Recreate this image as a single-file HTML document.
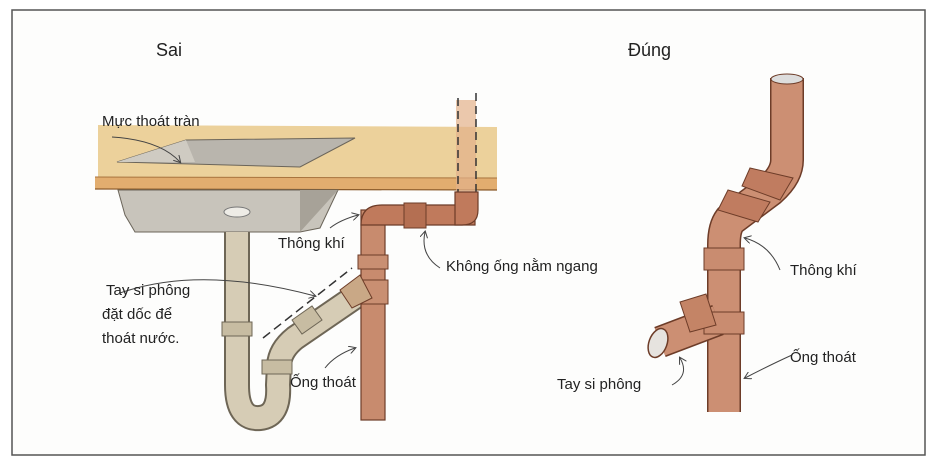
<!DOCTYPE html>
<html><head><meta charset="utf-8"><style>
html,body{margin:0;padding:0;background:#fff}
svg{display:block}
text{font-family:"Liberation Sans","DejaVu Sans",sans-serif;fill:#222}
</style></head><body>
<svg width="942" height="464" viewBox="0 0 942 464" xmlns="http://www.w3.org/2000/svg">
<defs>
<marker id="ah" markerWidth="8" markerHeight="8" refX="6" refY="4" orient="auto" markerUnits="userSpaceOnUse">
<path d="M0,0 L7,4 L0,8" fill="none" stroke="#444" stroke-width="1"/>
</marker>
</defs>
<rect x="0" y="0" width="942" height="464" fill="#fff"/>
<rect x="12" y="10" width="913" height="445" fill="#fdfdfc" stroke="#555" stroke-width="1.5"/>

<!-- countertop -->
<polygon points="98,125 497,127 497,178 98,177" fill="#ecd19b"/>
<polygon points="95,177 497,178 497,190 95,189" fill="#e2ad6f"/>
<line x1="95" y1="177" x2="497" y2="178" stroke="#a8743e" stroke-width="1"/>
<line x1="95" y1="189" x2="497" y2="190" stroke="#8a5a2a" stroke-width="1.2"/>
<!-- sink top opening -->
<polygon points="117,162 186,140 355,138 300,167" fill="#b9b5ad" stroke="#6b655a" stroke-width="1"/>
<polygon points="186,140 195,162 117,162" fill="#cfcbc2"/>
<!-- sink basin -->
<polygon points="118,190 338,190 320,228 300,232 135,232 125,215" fill="#c8c4bb" stroke="#6b655a" stroke-width="1"/>
<polygon points="300,190 338,190 300,232" fill="#a7a298"/>
<ellipse cx="237" cy="212" rx="13" ry="5" fill="#eeece6" stroke="#777" stroke-width="1"/>

<!-- vent dashed through counter -->
<rect x="456" y="100" width="20" height="100" fill="#e2b08a" opacity="0.7"/>
<line x1="458" y1="98" x2="458" y2="195" stroke="#333" stroke-width="1.5" stroke-dasharray="8,5"/>
<line x1="476" y1="93" x2="476" y2="195" stroke="#333" stroke-width="1.5" stroke-dasharray="8,5"/>

<!-- grey trap -->
<g fill="none" stroke-linecap="butt">
<path d="M237,232 L237,385 Q237,420 260,418 Q280,416 278,385 L279,365 Q280,350 295,338 L365,290" stroke="#6e6656" stroke-width="26"/>
<path d="M237,232 L237,385 Q237,420 260,418 Q280,416 278,385 L279,365 Q280,350 295,338 L365,290" stroke="#d6ccb5" stroke-width="22"/>
</g>
<rect x="222" y="322" width="30" height="14" fill="#c7bca2" stroke="#6e6656"/>
<rect x="262" y="360" width="30" height="14" fill="#c7bca2" stroke="#6e6656"/>
<polygon points="292,320 312,306 322,320 302,334" fill="#c7bca2" stroke="#6e6656"/>
<line x1="263" y1="338" x2="352" y2="268" stroke="#333" stroke-width="1.5" stroke-dasharray="9,5"/>

<!-- copper drain -->
<rect x="361" y="210" width="24" height="210" fill="#c88b6e" stroke="#6d3c28" stroke-width="1.2"/>
<path d="M361,225 Q361,205 382,205 L475,205 L475,225 L385,225 Z" fill="#c07a5c" stroke="#6d3c28" stroke-width="1.2"/>
<path d="M455,192 L478,192 L478,210 Q478,225 462,225 L455,225 Z" fill="#c07a5c" stroke="#6d3c28" stroke-width="1.2"/>
<rect x="404" y="203" width="22" height="25" fill="#b46f52" stroke="#6d3c28"/>
<rect x="358" y="255" width="30" height="14" fill="#c98f72" stroke="#6d3c28"/>
<rect x="356" y="280" width="32" height="24" fill="#c98f72" stroke="#6d3c28"/>
<polygon points="340,290 360,275 372,298 352,308" fill="#c9a886" stroke="#6d3c28"/>

<!-- right pipe -->
<g fill="none">
<path d="M787,78 L787,160 Q787,175 770,190 L730,220 Q724,228 724,245 L724,412" stroke="#6d3c28" stroke-width="34"/>
<path d="M787,78 L787,160 Q787,175 770,190 L730,220 Q724,228 724,245 L724,412" stroke="#cc8f73" stroke-width="31"/>
<path d="M718,320 L660,342" stroke="#6d3c28" stroke-width="32"/>
<path d="M718,320 L660,342" stroke="#cc8f73" stroke-width="29"/>
</g>
<ellipse cx="787" cy="79" rx="16" ry="5" fill="#ddd" stroke="#6d3c28"/>
<ellipse cx="658" cy="343" rx="9" ry="15" fill="#e6e3df" stroke="#6d3c28" stroke-width="1.5" transform="rotate(20 658 343)"/>
<polygon points="750,168 793,178 780,200 742,186" fill="#c07c60" stroke="#6d3c28"/>
<polygon points="728,190 770,202 758,222 718,210" fill="#c07c60" stroke="#6d3c28"/>
<rect x="704" y="248" width="40" height="22" fill="#c98c70" stroke="#6d3c28"/>
<rect x="704" y="312" width="40" height="22" fill="#c98c70" stroke="#6d3c28"/>
<polygon points="680,302 706,294 716,325 690,332" fill="#c48466" stroke="#6d3c28"/>

<!-- arrows -->
<g fill="none" stroke="#444" stroke-width="1" marker-end="url(#ah)">
<path d="M112,137 Q160,140 180,162"/>
<path d="M120,293 Q200,265 315,296"/>
<path d="M330,228 Q340,220 358,215"/>
<path d="M440,268 Q420,255 425,232"/>
<path d="M325,368 Q335,355 355,348"/>
<path d="M780,270 Q770,245 745,238"/>
<path d="M792,355 Q770,365 745,378"/>
<path d="M672,385 Q690,375 680,358"/>
</g>

<text x="156" y="56" font-size="18">Sai</text>
<text x="628" y="56" font-size="18">Đúng</text>
<text x="102" y="126" font-size="15">Mực thoát tràn</text>
<text x="278" y="248" font-size="15">Thông khí</text>
<text x="446" y="271" font-size="15">Không ống nằm ngang</text>
<text x="106" y="295" font-size="15">Tay si phông</text>
<text x="102" y="319" font-size="15">đặt dốc để</text>
<text x="102" y="343" font-size="15">thoát nước.</text>
<text x="290" y="387" font-size="15">Ống thoát</text>
<text x="790" y="275" font-size="15">Thông khí</text>
<text x="790" y="362" font-size="15">Ống thoát</text>
<text x="557" y="389" font-size="15">Tay si phông</text>
</svg>
</body></html>
